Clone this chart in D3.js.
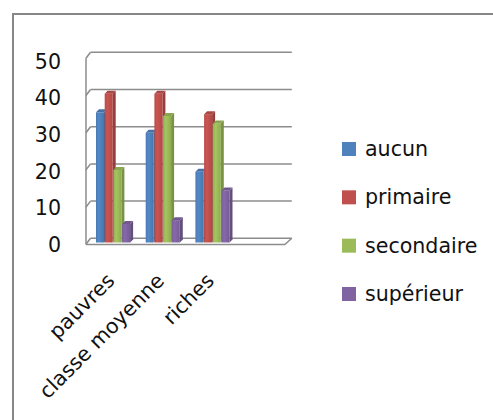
<!DOCTYPE html>
<html><head><meta charset="utf-8">
<script src="https://cdn.jsdelivr.net/npm/d3@7"></script>
<style>html,body{margin:0;padding:0;background:#fff;overflow:hidden}</style>
</head><body>
<svg id="c" width="493" height="420"></svg>
<script>
const categories = ["pauvres", "classe moyenne", "riches"];
const seriesNames = ["aucun", "primaire", "secondaire", "supérieur"];
const aucun      = [35, 29.5, 19];
const primaire   = [40, 40, 34.5];
const secondaire = [19.5, 34, 32];
const superieur  = [5, 6, 14];
const yTicks = [0, 10, 20, 30, 40, 50];

const seriesValues = [aucun, primaire, secondaire, superieur];
const colors = ["#4F81BD", "#C0504D", "#9BBB59", "#8064A2"];
const FONT = "DejaVu Sans, sans-serif";
const FS = 20.6;

const svg = d3.select("#c");
const defs = svg.append("defs");

// outer frame
svg.append("rect").attr("x", 13).attr("y", 14).attr("width", 520).attr("height", 500)
  .attr("fill", "#fff").attr("stroke", "#878787").attr("stroke-width", 2);

// scales
const depth = 6;
const floorFront = 244.5;
const yBack = d3.scaleLinear().domain([0, 50]).range([238.3, 52.3]);
const yFront = d3.scaleLinear().domain([0, 50]).range([242.5, 242.5 - 186]);
const yLabel = d3.scaleLinear().domain([0, 50]).range([245, 61.5]);
const plotLeft = 86, step = 49.7;
const x = d3.scaleBand().domain(categories).range([plotLeft, plotLeft + step * categories.length]);
const xInner = d3.scaleBand().domain(seriesNames).range([10, 10 + 4 * 8.7]);
const plotRight = plotLeft + step * 4;

const gridColor = "#8c8c8c";
const grid = svg.append("g").attr("stroke", gridColor).attr("stroke-width", 1.5).attr("fill", "none");
yTicks.forEach(t => {
  grid.append("line").attr("x1", plotLeft + 4.5).attr("x2", plotRight + depth + 1)
    .attr("y1", yBack(t)).attr("y2", yBack(t));
  grid.append("line").attr("x1", plotLeft).attr("y1", yBack(t) + depth)
    .attr("x2", plotLeft + 4.5).attr("y2", yBack(t));
});
grid.append("line").attr("x1", plotLeft).attr("x2", plotLeft)
  .attr("y1", yBack(50) + depth).attr("y2", floorFront);
grid.append("path").attr("d",
  `M${plotLeft},${floorFront}L${plotRight},${floorFront}L${plotRight + depth + 1},${yBack(0)}`);

function shade(c, k) { return d3.color(c).darker(k).formatHex(); }
colors.forEach((c, i) => {
  const g = defs.append("linearGradient").attr("id", "g" + i)
    .attr("x1", "0").attr("x2", "1").attr("y1", "0").attr("y2", "0");
  g.append("stop").attr("offset", "0").attr("stop-color", shade(c, 0.15));
  g.append("stop").attr("offset", "0.35").attr("stop-color", d3.color(c).brighter(0.15).formatHex());
  g.append("stop").attr("offset", "1").attr("stop-color", shade(c, 0.25));
});

const d = 3;
const bars = svg.append("g");
categories.forEach((cat, ci) => {
  seriesNames.forEach((s, si) => {
    const v = seriesValues[si][ci];
    const x0 = x(cat) + xInner(s);
    const w = xInner.bandwidth() - 0.7;
    const yt = yFront(v), yb = yFront(0);
    const c = colors[si];
    bars.append("path").attr("d",
      `M${x0 + w},${yt}L${x0 + w + d},${yt - d}L${x0 + w + d},${yb - d}L${x0 + w},${yb}Z`)
      .attr("fill", shade(c, 0.7));
    bars.append("rect").attr("x", x0).attr("y", yt).attr("width", w).attr("height", yb - yt)
      .attr("fill", `url(#g${si})`);
    bars.append("path").attr("d",
      `M${x0},${yt}L${x0 + d},${yt - d}L${x0 + w + d},${yt - d}L${x0 + w},${yt}Z`)
      .attr("fill", shade(c, 0.35));
  });
});

const yAxis = d3.axisLeft(yLabel).tickValues(yTicks).tickSize(0).tickPadding(0).tickFormat(d3.format("d"));
const ya = svg.append("g").attr("transform", "translate(61,0)").call(yAxis);
ya.select(".domain").remove();
ya.selectAll("text").attr("font-family", FONT).attr("font-size", FS).attr("fill", "#111");

svg.append("g").selectAll("text").data(categories).join("text")
  .attr("transform", c => `translate(${x(c) + x.bandwidth() / 2 + 5},282) rotate(-45)`)
  .attr("text-anchor", "end")
  .attr("font-family", FONT).attr("font-size", FS).attr("fill", "#111")
  .text(c => c);

const legY = d3.scalePoint().domain(seriesNames).range([149, 294]);
const leg = svg.append("g").selectAll("g").data(seriesNames).join("g")
  .attr("transform", s => `translate(342,${legY(s)})`);
leg.append("rect").attr("x", 0).attr("y", -7).attr("width", 14).attr("height", 14)
  .attr("fill", (s, i) => colors[i]);
leg.append("text").attr("x", 23).attr("y", 7)
  .attr("font-family", FONT).attr("font-size", FS).attr("fill", "#111")
  .text(s => s);
</script>
</body></html>
